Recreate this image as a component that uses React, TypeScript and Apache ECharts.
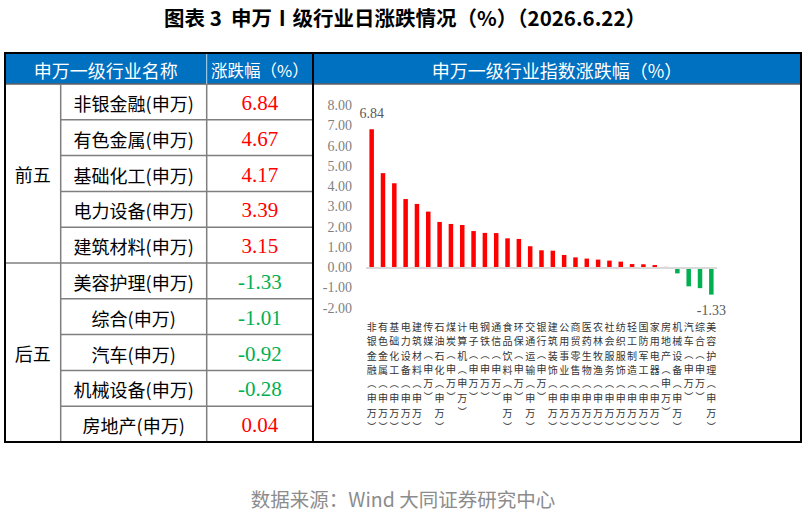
import React, { useEffect, useRef } from 'react';
import * as echarts from 'echarts';

const industries = [
  '非银金融', '有色金属', '基础化工', '电力设备', '建筑材料', '传媒', '石油石化', '煤炭',
  '计算机', '电子', '钢铁', '通信', '食品饮料', '环保', '交通运输', '银行', '建筑装饰',
  '公用事业', '商贸零售', '医药生物', '农林牧渔', '社会服务', '纺织服饰', '轻工制造',
  '国防军工', '家用电器', '房地产', '机械设备', '汽车', '综合', '美容护理',
];
const changes = [
  6.84, 4.67, 4.17, 3.39, 3.15, 2.77, 2.26, 2.16, 2.11, 1.81, 1.72, 1.71, 1.45, 1.42,
  1.06, 0.86, 0.84, 0.63, 0.51, 0.45, 0.40, 0.35, 0.30, 0.18, 0.17, 0.13, 0.04,
  -0.28, -0.92, -1.01, -1.33,
];
const suffix = '(申万)';
const titleText = '图表 3  申万Ⅰ级行业日涨跌情况（%）（2026.6.22）';
const headerTexts = ['申万一级行业名称', '涨跌幅（%）', '申万一级行业指数涨跌幅（%）'];
const groupLabels = ['前五', '后五'];
const sourceText = '数据来源：Wind 大同证券研究中心';
const yMin = -2;
const yMax = 8;
const yInterval = 1;

const RED = '#FF0000';
const GREEN = '#00B050';
const CJK = '"Noto Sans CJK SC", "Noto Sans", sans-serif';
const NUM = '"Liberation Serif", "DejaVu Serif", serif';

export default function App() {
  const ref = useRef<HTMLDivElement>(null);
  useEffect(() => {
    if (!ref.current) return;
    const chart = echarts.init(ref.current, undefined, { renderer: 'svg' });

    const n = industries.length;
    const topIdx = [0, 1, 2, 3, 4];
    const bottomIdx = [n - 1, n - 2, n - 3, n - 4, n - 5];
    const rowIdx = [...topIdx, ...bottomIdx];

    const L = 5, R = 801, T = 53, HB = 84, B = 442;
    const c1 = 60.7, c2 = 206.7, c3 = 313;
    const rowH = (B - HB) / 10;

    const g: any[] = [];
    g.push({ type: 'rect', shape: { x: L, y: T, width: R - L, height: HB - T }, style: { fill: '#0070C0' }, z: 1 });
    for (let k = 1; k < 10; k++) {
      const y = HB + rowH * k;
      g.push({ type: 'line', shape: { x1: k === 5 ? L : c1, y1: y, x2: c3, y2: y }, style: { stroke: '#7F7F7F', lineWidth: 1.5 }, z: 2 });
    }
    g.push({ type: 'line', shape: { x1: L, y1: HB, x2: R, y2: HB }, style: { stroke: '#5F5F5F', lineWidth: 1.5 }, z: 2 });
    g.push({ type: 'line', shape: { x1: c1, y1: HB, x2: c1, y2: B }, style: { stroke: '#7F7F7F', lineWidth: 1.5 }, z: 2 });
    g.push({ type: 'line', shape: { x1: c2, y1: HB, x2: c2, y2: B }, style: { stroke: '#7F7F7F', lineWidth: 1.5 }, z: 2 });
    g.push({ type: 'line', shape: { x1: c2, y1: T, x2: c2, y2: HB }, style: { stroke: '#BFD7EE', lineWidth: 1 }, z: 2 });
    g.push({ type: 'line', shape: { x1: c3, y1: T, x2: c3, y2: B }, style: { stroke: '#000', lineWidth: 2 }, z: 3 });
    g.push({ type: 'rect', shape: { x: L, y: T, width: R - L, height: B - T }, style: { fill: 'none', stroke: '#000', lineWidth: 2 }, z: 3 });

    const hx = [(L + c2) / 2, (c2 + c3) / 2, (c3 + R) / 2];
    headerTexts.forEach((t, i) => {
      g.push({ type: 'text', x: hx[i], y: (T + HB) / 2 + 1, z: 4,
        style: { text: t, align: 'center', verticalAlign: 'middle', fill: '#fff', font: `${i === 1 ? 16.5 : 18}px ${CJK}` } });
    });
    groupLabels.forEach((t, i) => {
      g.push({ type: 'text', x: (L + c1) / 2, y: HB + rowH * (5 * i + 2.5), z: 4,
        style: { text: t, align: 'center', verticalAlign: 'middle', fill: '#000', font: `18px ${CJK}` } });
    });
    rowIdx.forEach((idx, r) => {
      const cy = HB + rowH * (r + 0.5) + 1;
      g.push({ type: 'text', x: (c1 + c2) / 2, y: cy, z: 4,
        style: { text: industries[idx] + suffix, align: 'center', verticalAlign: 'middle', fill: '#000', font: `18px ${CJK}` } });
      const v = changes[idx];
      g.push({ type: 'text', x: (c2 + c3) / 2, y: cy, z: 4,
        style: { text: v.toFixed(2), align: 'center', verticalAlign: 'middle', fill: v >= 0 ? RED : GREEN, font: `21px ${NUM}` } });
    });
    g.push({ type: 'text', x: 405, y: 17, z: 4,
      style: { text: titleText, align: 'center', verticalAlign: 'middle', fill: '#000', font: `bold 20.5px ${CJK}` } });
    g.push({ type: 'text', x: 403, y: 498, z: 4,
      style: { text: sourceText, align: 'center', verticalAlign: 'middle', fill: '#8C8C8C', font: `19.5px ${CJK}` } });

    const toVertical = (name: string) => {
      const full = name + suffix;
      return full.split('').map((ch) => {
        if (ch === '(') return '{p|︵}';
        if (ch === ')') return '{p|︶}';
        return `{c|${ch}}`;
      }).join('\n');
    };

    const data = changes.map((v, i) => ({
      value: v,
      itemStyle: { color: v >= 0 ? RED : GREEN },
      label: {
        show: i === 0 || i === n - 1,
        position: v >= 0 ? 'top' : 'bottom',
        distance: 9,
        color: '#595959',
        fontFamily: NUM,
        fontSize: 14,
        formatter: () => v.toFixed(2),
      },
    }));

    chart.setOption({
      animation: false,
      backgroundColor: '#fff',
      grid: { left: 366, right: 90, top: 105.7, bottom: 205.8, containLabel: false },
      xAxis: {
        type: 'category',
        data: industries,
        axisLine: { show: false },
        axisTick: { show: false },
        axisLabel: {
          interval: 0,
          margin: 10.5,
          formatter: (val: string) => toVertical(val),
          rich: {
            c: { fontSize: 10, lineHeight: 14.6, fontFamily: CJK, color: '#333' },
            p: { fontSize: 9, lineHeight: 13.2, fontFamily: CJK, color: '#333' },
          },
        },
      },
      yAxis: {
        type: 'value',
        min: yMin,
        max: yMax,
        interval: yInterval,
        axisLine: { show: false },
        axisTick: { show: false },
        splitLine: { show: false },
        axisLabel: { margin: 14, color: '#7F7F7F', fontFamily: NUM, fontSize: 14, formatter: (v: number) => v.toFixed(2) },
      },
      series: [
        {
          type: 'bar',
          data,
          barWidth: 4.5,
          markLine: {
            silent: true,
            symbol: 'none',
            label: { show: false },
            lineStyle: { color: '#D9D9D9', width: 2, type: 'solid' },
            data: [{ yAxis: 0 }],
          },
        },
      ],
      graphic: g,
    });
    return () => chart.dispose();
  }, []);
  return <div ref={ref} style={{ position: 'fixed', left: 0, top: 0, width: 807, height: 514, background: '#fff' }} />;
}
